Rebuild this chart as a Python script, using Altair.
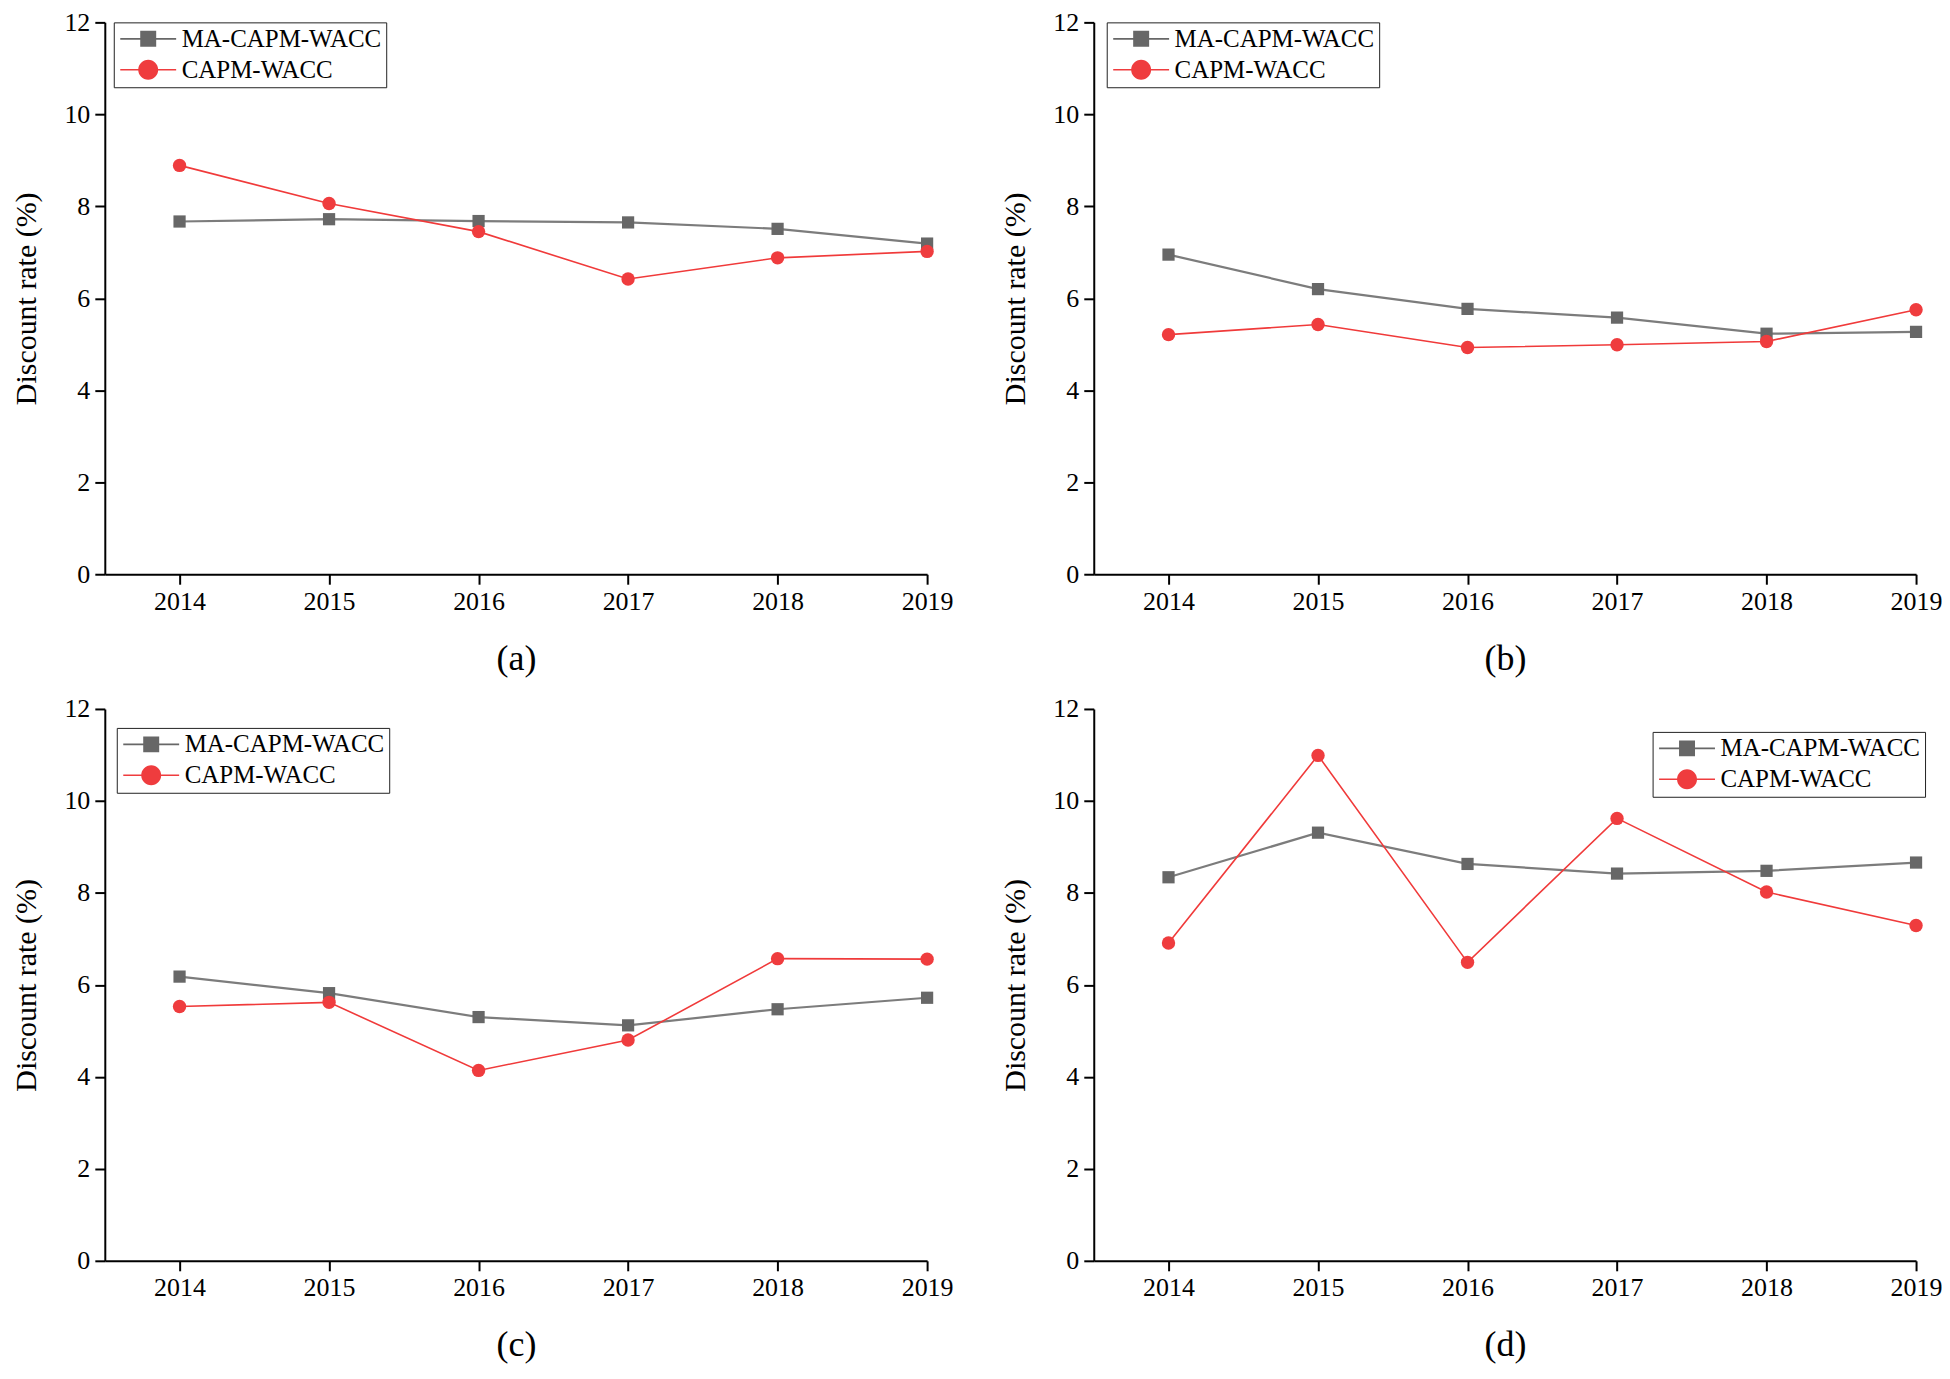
import altair as alt
import pandas as pd

years = [2014, 2015, 2016, 2017, 2018, 2019]
series_names = ["MA-CAPM-WACC", "CAPM-WACC"]

ma_a = [7.67, 7.72, 7.68, 7.65, 7.51, 7.19]
capm_a = [8.89, 8.06, 7.45, 6.42, 6.88, 7.02]
ma_b = [6.95, 6.20, 5.77, 5.58, 5.23, 5.27]
capm_b = [5.21, 5.43, 4.93, 4.99, 5.06, 5.75]
ma_c = [6.18, 5.82, 5.30, 5.12, 5.47, 5.72]
capm_c = [5.53, 5.62, 4.14, 4.80, 6.57, 6.56]
ma_d = [8.34, 9.31, 8.63, 8.42, 8.48, 8.66]
capm_d = [6.91, 10.99, 6.49, 9.62, 8.02, 7.29]

panel_labels = ["(a)", "(b)", "(c)", "(d)"]
y_ticks = [0, 2, 4, 6, 8, 10, 12]
y_title = "Discount rate (%)"

FONT = "Liberation Serif"
GRAY_LINE = "#7c7c7c"
GRAY_MARK = "#676767"
RED_LINE = "#f03a3a"
RED_MARK = "#ef3c3e"

# legend symbols: line segment + marker (unit radius = 10px)
SQ_PATH = "M-2.8,-0.08H2.8V0.08H-2.8Z M-0.8,-0.8H0.8V0.8H-0.8Z"
CI_PATH = "M-2.8,-0.08H2.8V0.08H-2.8Z M1,0A1,1 0 1,1 -1,0A1,1 0 1,1 1,0Z"

W, H = 824, 553


def panel(ma, capm, label, lx, ly):
    df = pd.DataFrame({
        "year": years * 2,
        "value": ma + capm,
        "series": [series_names[0]] * len(years) + [series_names[1]] * len(years),
    })
    base = alt.Chart(df)
    x = alt.X("year:Q",
              scale=alt.Scale(domain=[2013.5, 2019], nice=False, zero=False),
              axis=alt.Axis(values=years, format="d", title=label))
    y = alt.Y("value:Q",
              scale=alt.Scale(domain=[0, 12], nice=False),
              axis=alt.Axis(values=y_ticks, title=y_title))

    layers = []
    styles = [
        (series_names[0], GRAY_LINE, 2.2, GRAY_MARK, "square", 150),
        (series_names[1], RED_LINE, 1.6, RED_MARK, "circle", 180),
    ]
    for name, lc, lw, mc, shp, sz in styles:
        sub = base.transform_filter(alt.datum.series == name)
        layers.append(sub.mark_line(color=lc, strokeWidth=lw).encode(x=x, y=y))
    for name, lc, lw, mc, shp, sz in styles:
        sub = base.transform_filter(alt.datum.series == name)
        layers.append(sub.mark_point(shape=shp, size=sz, filled=True, color=mc, opacity=1).encode(x=x, y=y))

    leg = alt.Legend(
        title=None, orient="none", legendX=lx, legendY=ly,
        labelFont=FONT, labelFontSize=25, labelColor="black", labelLimit=0,
        symbolSize=400, symbolOffset=18, labelOffset=21, symbolStrokeWidth=0,
        strokeColor="#222222", fillColor="white", padding=4, rowPadding=5,
        direction="vertical",
    )
    legend_layer = base.transform_filter("false").mark_point(filled=True, size=400, opacity=1).encode(
        x=x, y=y,
        fill=alt.Fill("series:N", scale=alt.Scale(domain=series_names, range=[GRAY_MARK, RED_MARK]), legend=leg),
        shape=alt.Shape("series:N", scale=alt.Scale(domain=series_names, range=[SQ_PATH, CI_PATH]), legend=leg),
    )
    layers.append(legend_layer)
    return alt.layer(*layers).properties(width=W, height=H)


pa = panel(ma_a, capm_a, panel_labels[0], 9, 0)
pb = panel(ma_b, capm_b, panel_labels[1], 13, 0)
pc = panel(ma_c, capm_c, panel_labels[2], 12, 19)
pd_ = panel(ma_d, capm_d, panel_labels[3], 560, 23)


def indep(c):
    return c.resolve_scale(fill="independent", shape="independent").resolve_legend(
        fill="independent", shape="independent")


row1 = indep(alt.hconcat(pa, pb, spacing=48))
row2 = indep(alt.hconcat(pc, pd_, spacing=48))

chart = indep(alt.vconcat(row1, row2, spacing=20)).properties(
    padding={"left": 4, "top": 0, "right": 0, "bottom": 0}
).configure_view(
    stroke=None
).configure_axis(
    domainColor="black", domainWidth=2, tickColor="black", tickWidth=2, tickSize=10,
    labelFont=FONT, labelFontSize=26, labelColor="black", labelFlush=False,
    titleFont=FONT, titleFontWeight="normal", titleColor="black", grid=False,
).configure_axisX(
    titleFontSize=36, titlePadding=27, labelPadding=4,
).configure_axisY(
    titleFontSize=30, titlePadding=22, labelPadding=5,
)

chart.save("out.html", embed_options={"renderer": "svg", "actions": False})
